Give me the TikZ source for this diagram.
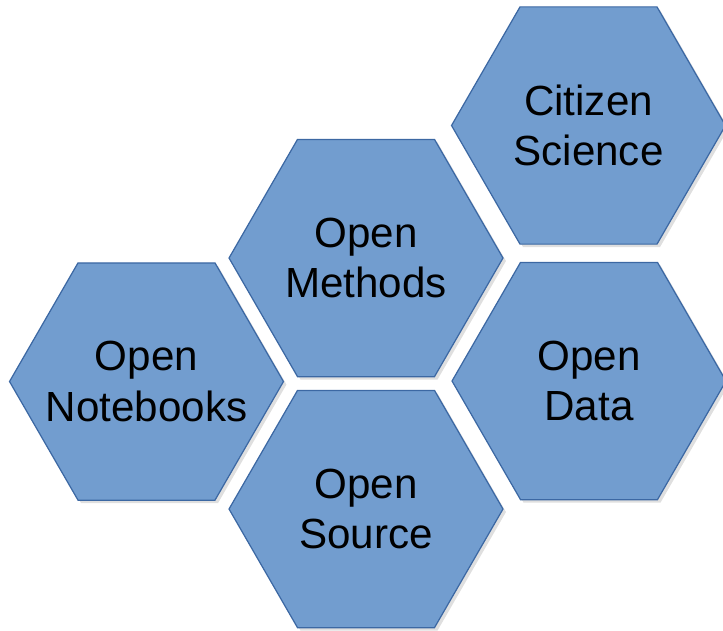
\documentclass[tikz,border=0pt]{standalone}
\usepackage{fontspec}
\setmainfont{Liberation Sans}
\usetikzlibrary{shapes.geometric, shadows}
\definecolor{hexfill}{RGB}{114,157,207}
\definecolor{hexdraw}{RGB}{60,104,163}
\begin{document}
\begin{tikzpicture}[x=0.02cm, y=-0.02cm, every node/.style={regular polygon, regular polygon sides=6, minimum size=5.48cm, inner sep=-0.5cm, fill=hexfill, draw=hexdraw, line width=0.7pt, align=center, font=\fontsize{24}{28.5}\selectfont, drop shadow={opacity=0.25, shadow xshift=0.06cm, shadow yshift=-0.06cm}}]
        \useasboundingbox (0, 0) rectangle (723, 630);
        \node (cs) at (588.5, 125.5) {Citizen\\Science};
        \node (om) at (366, 258) {Open\\Methods};
        \node (on) at (146.5, 381.5) {Open\\Notebooks};
        \node (od) at (589, 381) {Open\\Data};
        \node (os) at (366, 509) {Open\\Source};
    \end{tikzpicture}
\end{document}
